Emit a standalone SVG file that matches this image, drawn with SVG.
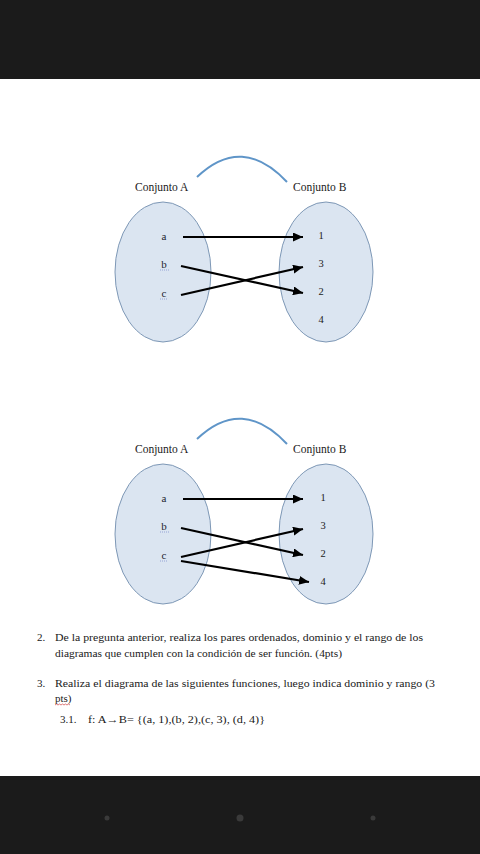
<svg xmlns="http://www.w3.org/2000/svg" width="480" height="854" viewBox="0 0 480 854">
<defs>
<style>
.bar{fill:#1b1b1b}
.set{fill:#dbe5f1;stroke:#7e98b6;stroke-width:1}
.arc{fill:none;stroke:#5f95c8;stroke-width:2}
.lbl{font-family:"Liberation Serif","Times New Roman",serif;font-size:11.5px;fill:#1a1a1a}
.el{font-family:"Liberation Serif","Times New Roman",serif;font-size:11px;fill:#1e1e30;text-anchor:middle}
.num{font-family:"Liberation Serif","Times New Roman",serif;font-size:10.5px;fill:#222;text-anchor:middle}
.ul{stroke:#7a88c8;stroke-width:0.7;stroke-dasharray:1 1}
.body{font-family:"Liberation Serif","Times New Roman",serif;font-size:11px;fill:#1a1a1a}
.con{stroke:#000;stroke-width:2.2;fill:none;marker-end:url(#ah)}
.dot{fill:#3a3a3a}
</style>
<marker id="ah" markerUnits="userSpaceOnUse" markerWidth="11" markerHeight="9" refX="10" refY="4.5" orient="auto">
<path d="M0,0 L10,4.5 L0,9 Z" fill="#000"/>
</marker>
</defs>
<rect width="480" height="854" fill="#ffffff"/>
<rect class="bar" x="0" y="0" width="480" height="79"/>
<rect class="bar" x="0" y="776" width="480" height="78"/>
<circle class="dot" cx="107" cy="818" r="2.5"/>
<circle class="dot" cx="240" cy="818" r="3.5"/>
<circle class="dot" cx="373" cy="818" r="2.5"/>

<g id="diagram1">
<g id="d1-arc"><path class="arc" d="M197,177 Q242,134 287,182"/></g>
<g id="d1-setA">
<ellipse class="set" cx="163" cy="272" rx="48" ry="70"/>
<text class="lbl" x="135" y="191">Conjunto A</text>
<text class="el" x="164" y="240">a</text>
<text class="el" x="164" y="268">b</text>
<line class="ul" x1="160" y1="270" x2="169" y2="270"/>
<text class="el" x="164" y="297">c</text>
<line class="ul" x1="160" y1="299" x2="168" y2="299"/>
</g>
<g id="d1-setB">
<ellipse class="set" cx="326" cy="272" rx="47" ry="70"/>
<text class="lbl" x="293" y="191">Conjunto B</text>
<text class="num" x="321" y="239">1</text>
<text class="num" x="321" y="267">3</text>
<text class="num" x="321" y="295">2</text>
<text class="num" x="321" y="323">4</text>
</g>
<g id="d1-connectors">
<line class="con" x1="183" y1="237" x2="303" y2="237"/>
<line class="con" x1="181" y1="266" x2="303" y2="293"/>
<line class="con" x1="181" y1="295" x2="303" y2="267"/>
</g>
</g>

<g id="diagram2">
<g id="d2-arc"><path class="arc" d="M197,439 Q242,396 287,444"/></g>
<g id="d2-setA">
<ellipse class="set" cx="163" cy="534" rx="48" ry="70"/>
<text class="lbl" x="135" y="453">Conjunto A</text>
<text class="el" x="164" y="502">a</text>
<text class="el" x="164" y="530">b</text>
<line class="ul" x1="160" y1="532" x2="169" y2="532"/>
<text class="el" x="164" y="559">c</text>
<line class="ul" x1="160" y1="561" x2="168" y2="561"/>
</g>
<g id="d2-setB">
<ellipse class="set" cx="326" cy="534" rx="47" ry="70"/>
<text class="lbl" x="293" y="453">Conjunto B</text>
<text class="num" x="323" y="501">1</text>
<text class="num" x="323" y="529">3</text>
<text class="num" x="323" y="557">2</text>
<text class="num" x="323" y="585">4</text>
</g>
<g id="d2-connectors">
<line class="con" x1="183" y1="499" x2="303" y2="499"/>
<line class="con" x1="181" y1="528" x2="303" y2="555"/>
<line class="con" x1="181" y1="557" x2="303" y2="529"/>
<line class="con" x1="181" y1="561" x2="309" y2="582"/>
</g>
</g>

<g id="questions">
<text class="body" x="37" y="641">2.</text>
<text class="body" x="55" y="641" textLength="368" lengthAdjust="spacingAndGlyphs">De la pregunta anterior, realiza los pares ordenados, dominio y el rango de los</text>
<text class="body" x="55" y="657" textLength="287" lengthAdjust="spacingAndGlyphs">diagramas que cumplen con la condición de ser función. (4pts)</text>
<text class="body" x="37" y="687">3.</text>
<text class="body" x="55" y="687" textLength="380" lengthAdjust="spacingAndGlyphs">Realiza el diagrama de las siguientes funciones, luego indica dominio y rango (3</text>
<text class="body" x="55" y="702">pts)</text>
<path d="M55,705 l1.5,-1 l1.5,1 l1.5,-1 l1.5,1 l1.5,-1 l1.5,1 l1.5,-1 l1.5,1 l1.5,-1 l1.5,1" fill="none" stroke="#d04040" stroke-width="0.7"/>
<text class="body" x="60" y="723">3.1.</text>
<text class="body" x="88" y="723" textLength="177" lengthAdjust="spacingAndGlyphs">f: A→B= {(a, 1),(b, 2),(c, 3), (d, 4)}</text>
</g>
</svg>
